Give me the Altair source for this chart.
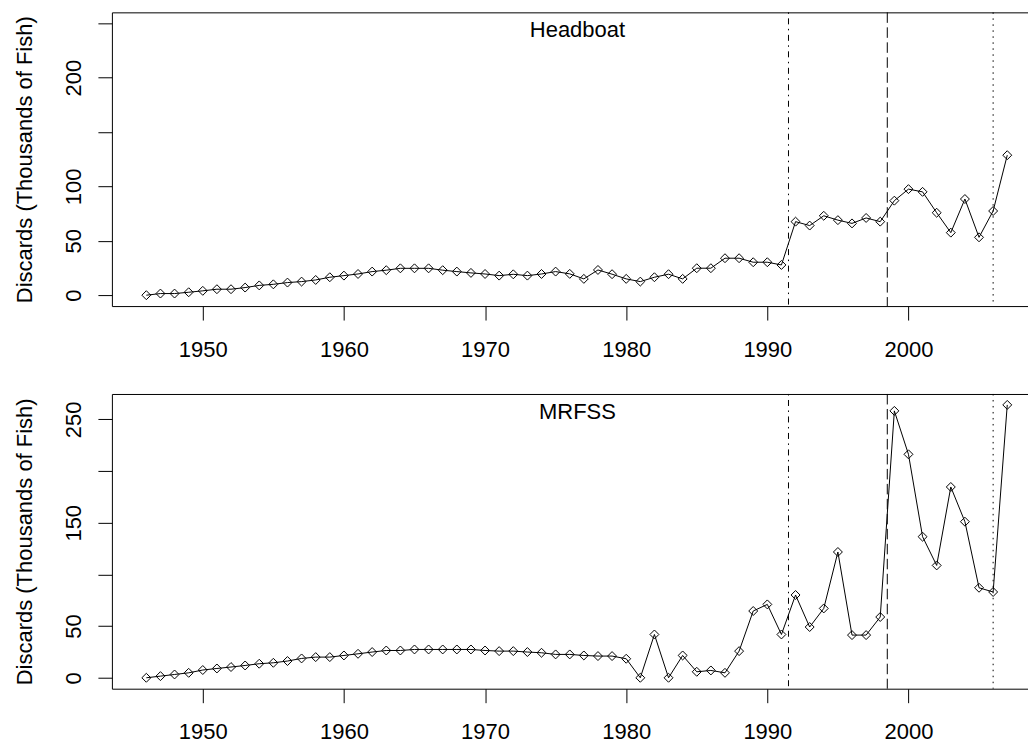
import altair as alt
import pandas as pd

years = list(range(1946, 2008))

headboat = [0, 1.5, 1.5, 2.7, 4, 5.5, 5.5, 7, 9, 10,
            11.6, 12.5, 14, 16.5, 18, 19.5, 21.7, 23, 24.7, 24.7,
            24.7, 23, 21.7, 20.5, 19.5, 18, 19.2, 18, 19.5, 21.7,
            19.6, 15, 23.2, 19.3, 15, 12.5, 16.5, 19.3, 15, 24.8,
            24.8, 34, 34, 30.3, 30.3, 27.8, 67.6, 64, 73, 69,
            66, 71, 67.6, 86.9, 97.5, 95, 75.8, 57.5, 88.4, 53.2,
            77.4, 128.7]

mrfss = [0, 1.6, 3.2, 4.8, 7.5, 9, 10.4, 11.9, 13.6, 14.5,
         16.2, 18.7, 20, 20, 21.6, 23.2, 24.9, 26.4, 26.4, 27.4,
         27.4, 27.4, 27.4, 27.4, 26.4, 25.8, 25.8, 24.9, 24.2, 22.6,
         22.6, 21.6, 21, 21, 18.4, 0, 41.9, 0, 21.6, 5.8,
         7.1, 4.8, 25.8, 64.6, 71, 41.9, 80.1, 49.1, 67.1, 121.7,
         41.3, 41.3, 58.8, 258.2, 216.2, 136.5, 108.7, 184.6, 151, 87.1,
         83, 264]

reg_years = [1991.5, 1998.5, 2006.0]
reg_dashes = [[1.5, 4.5, 6, 4.5], [10.5, 4.5], [1.5, 4.5]]

x_ticks = [1950, 1960, 1970, 1980, 1990, 2000]
y_ticks = [0, 50, 100, 150, 200, 250]
top_hidden = [150, 250]
bottom_hidden = [100, 200]

FONT = "Liberation Sans"
FS = 22
x_domain = [1943.56, 2008.47]
Y_TITLE = "Discards (Thousands of Fish)"
W = 917


def panel(values, name, y_domain, hidden, h):
    df = pd.DataFrame({"year": years, "discards": values})
    xscale = alt.Scale(domain=x_domain, nice=False, zero=False)
    yscale = alt.Scale(domain=y_domain, nice=False, zero=False)
    hide_expr = " || ".join(f"datum.value == {v}" for v in hidden)
    yaxis = alt.Axis(values=y_ticks, labelExpr=f"({hide_expr}) ? '' : datum.label",
                     title=Y_TITLE, labelAngle=-90, labelAlign="center",
                     labelBaseline="bottom", tickSize=14, labelPadding=12,
                     titlePadding=26, grid=False)
    xaxis_bottom = alt.Axis(values=x_ticks, format="d", title=None, tickSize=14,
                            labelPadding=19, grid=False, labelAngle=0)
    xaxis_top = alt.Axis(orient="top", labels=False, ticks=False, domain=True,
                         title=None, grid=False)
    base = alt.Chart(df)
    line = base.mark_line(color="black", strokeWidth=1).encode(
        x=alt.X("year:Q", scale=xscale, axis=xaxis_bottom),
        y=alt.Y("discards:Q", scale=yscale, axis=yaxis),
    )
    pts = base.mark_point(shape="diamond", filled=False, color="black", size=80,
                          strokeWidth=1, opacity=1).encode(
        x=alt.X("year:Q", scale=xscale, axis=xaxis_top),
        y=alt.Y("discards:Q", scale=yscale, axis=yaxis),
    )
    rules = []
    for yr, d in zip(reg_years, reg_dashes):
        rules.append(
            alt.Chart(pd.DataFrame({"year": [yr]})).mark_rule(
                color="black", strokeWidth=1, strokeDash=d
            ).encode(x=alt.X("year:Q", scale=xscale, axis=None))
        )
    label = alt.Chart(pd.DataFrame({"name": [name]})).mark_text(
        font=FONT, fontSize=FS, color="black", align="center", baseline="alphabetic"
    ).encode(x=alt.value(466), y=alt.value(25), text="name:N")
    return alt.layer(line, pts, *rules, label).resolve_axis(x="independent").properties(
        width=W, height=h,
    )


top = panel(headboat, "Headboat", [-10, 260], top_hidden, 294)
bottom = panel(mrfss, "MRFSS", [-10.56, 274.56], bottom_hidden, 295)

chart = alt.vconcat(top, bottom, spacing=33).properties(
    padding={"left": 5, "top": 3, "right": 0, "bottom": 5},
    background="white",
).configure_view(stroke=None).configure_axis(
    labelFont=FONT, titleFont=FONT, labelFontSize=FS, titleFontSize=FS,
    labelColor="black", titleColor="black", titleFontWeight="normal",
    domainColor="black", tickColor="black", domainWidth=1, tickWidth=1,
)

chart.save("out.html", embed_options={"renderer": "svg", "actions": False})
